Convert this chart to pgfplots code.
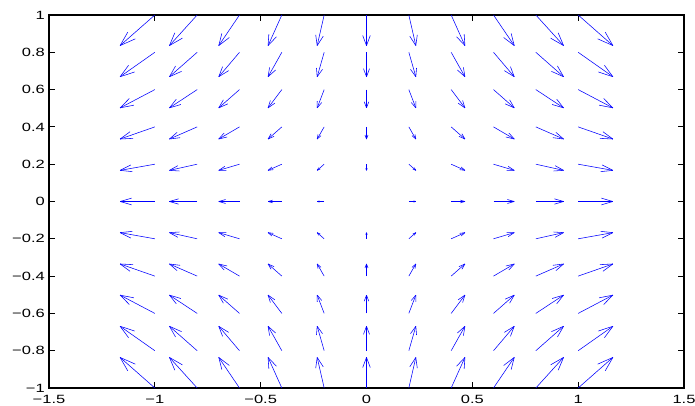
\documentclass[border=0pt]{standalone}
\usepackage{pgfplots}
\pgfplotsset{compat=1.18}
\usepackage{pgfplotstable}
\usepackage{fontspec}
\setmainfont{Liberation Sans}
\usetikzlibrary{calc}
\newcommand\tl[1]{\scalebox{1.38}[1]{#1}}

% arrow tails (x,y) and arrow vectors (u,v) as drawn
\pgfplotstableread{
x y u v
-1 1 -0.164 -0.164
-0.8 1 -0.131 -0.164
-0.6 1 -0.098 -0.164
-0.4 1 -0.065 -0.164
-0.2 1 -0.033 -0.164
0 1 0 -0.164
0.2 1 0.033 -0.164
0.4 1 0.065 -0.164
0.6 1 0.098 -0.164
0.8 1 0.131 -0.164
1 1 0.164 -0.164
-1 0.8 -0.164 -0.131
-0.8 0.8 -0.131 -0.131
-0.6 0.8 -0.098 -0.131
-0.4 0.8 -0.065 -0.131
-0.2 0.8 -0.033 -0.131
0 0.8 0 -0.131
0.2 0.8 0.033 -0.131
0.4 0.8 0.065 -0.131
0.6 0.8 0.098 -0.131
0.8 0.8 0.131 -0.131
1 0.8 0.164 -0.131
-1 0.6 -0.164 -0.098
-0.8 0.6 -0.131 -0.098
-0.6 0.6 -0.098 -0.098
-0.4 0.6 -0.065 -0.098
-0.2 0.6 -0.033 -0.098
0 0.6 0 -0.098
0.2 0.6 0.033 -0.098
0.4 0.6 0.065 -0.098
0.6 0.6 0.098 -0.098
0.8 0.6 0.131 -0.098
1 0.6 0.164 -0.098
-1 0.4 -0.164 -0.065
-0.8 0.4 -0.131 -0.065
-0.6 0.4 -0.098 -0.065
-0.4 0.4 -0.065 -0.065
-0.2 0.4 -0.033 -0.065
0 0.4 0 -0.065
0.2 0.4 0.033 -0.065
0.4 0.4 0.065 -0.065
0.6 0.4 0.098 -0.065
0.8 0.4 0.131 -0.065
1 0.4 0.164 -0.065
-1 0.2 -0.164 -0.033
-0.8 0.2 -0.131 -0.033
-0.6 0.2 -0.098 -0.033
-0.4 0.2 -0.065 -0.033
-0.2 0.2 -0.033 -0.033
0 0.2 0 -0.033
0.2 0.2 0.033 -0.033
0.4 0.2 0.065 -0.033
0.6 0.2 0.098 -0.033
0.8 0.2 0.131 -0.033
1 0.2 0.164 -0.033
-1 0 -0.164 0
-0.8 0 -0.131 0
-0.6 0 -0.098 0
-0.4 0 -0.065 0
-0.2 0 -0.033 0
0 0 0 0
0.2 0 0.033 0
0.4 0 0.065 0
0.6 0 0.098 0
0.8 0 0.131 0
1 0 0.164 0
-1 -0.2 -0.164 0.033
-0.8 -0.2 -0.131 0.033
-0.6 -0.2 -0.098 0.033
-0.4 -0.2 -0.065 0.033
-0.2 -0.2 -0.033 0.033
0 -0.2 0 0.033
0.2 -0.2 0.033 0.033
0.4 -0.2 0.065 0.033
0.6 -0.2 0.098 0.033
0.8 -0.2 0.131 0.033
1 -0.2 0.164 0.033
-1 -0.4 -0.164 0.065
-0.8 -0.4 -0.131 0.065
-0.6 -0.4 -0.098 0.065
-0.4 -0.4 -0.065 0.065
-0.2 -0.4 -0.033 0.065
0 -0.4 0 0.065
0.2 -0.4 0.033 0.065
0.4 -0.4 0.065 0.065
0.6 -0.4 0.098 0.065
0.8 -0.4 0.131 0.065
1 -0.4 0.164 0.065
-1 -0.6 -0.164 0.098
-0.8 -0.6 -0.131 0.098
-0.6 -0.6 -0.098 0.098
-0.4 -0.6 -0.065 0.098
-0.2 -0.6 -0.033 0.098
0 -0.6 0 0.098
0.2 -0.6 0.033 0.098
0.4 -0.6 0.065 0.098
0.6 -0.6 0.098 0.098
0.8 -0.6 0.131 0.098
1 -0.6 0.164 0.098
-1 -0.8 -0.164 0.131
-0.8 -0.8 -0.131 0.131
-0.6 -0.8 -0.098 0.131
-0.4 -0.8 -0.065 0.131
-0.2 -0.8 -0.033 0.131
0 -0.8 0 0.131
0.2 -0.8 0.033 0.131
0.4 -0.8 0.065 0.131
0.6 -0.8 0.098 0.131
0.8 -0.8 0.131 0.131
1 -0.8 0.164 0.131
-1 -1 -0.164 0.164
-0.8 -1 -0.131 0.164
-0.6 -1 -0.098 0.164
-0.4 -1 -0.065 0.164
-0.2 -1 -0.033 0.164
0 -1 0 0.164
0.2 -1 0.033 0.164
0.4 -1 0.065 0.164
0.6 -1 0.098 0.164
0.8 -1 0.131 0.164
1 -1 0.164 0.164
}\field

\begin{document}
\begin{tikzpicture}
\begin{axis}[
    width=635bp, height=373bp, scale only axis,
    xmin=-1.5, xmax=1.5, ymin=-1, ymax=1,
    xtick={-1.5,-1,-0.5,0,0.5,1,1.5},
    xticklabels={\tl{−1.5},\tl{−1},\tl{−0.5},\tl{0},\tl{0.5},\tl{1},\tl{1.5}},
    ytick={-1,-0.8,-0.6,-0.4,-0.2,0,0.2,0.4,0.6,0.8,1},
    yticklabels={\tl{−1},\tl{−0.8},\tl{−0.6},\tl{−0.4},\tl{−0.2},\tl{0},\tl{0.2},\tl{0.4},\tl{0.6},\tl{0.8},\tl{1}},
    tick align=inside,
    major tick length=6bp,
    tick style={black, line width=1bp},
    axis line style={black, line width=1.1bp},
    ticklabel style={font=\fontsize{12}{14}\selectfont, inner sep=1bp},
    xticklabel style={yshift=-6bp},
    yticklabel style={xshift=-3bp},
]
% shafts
\addplot[color=blue, line width=0.55bp, quiver={u=\thisrow{u}, v=\thisrow{v}}]
    table[x=x, y=y] {\field};
% arrow head barbs (MATLAB style, proportional to length)
\addplot[color=blue, line width=0.55bp,
    quiver={u={-0.33*(\thisrow{u}+0.33*\thisrow{v})}, v={-0.33*(\thisrow{v}-0.33*\thisrow{u})}}]
    table[x expr=\thisrow{x}+\thisrow{u}, y expr=\thisrow{y}+\thisrow{v}] {\field};
\addplot[color=blue, line width=0.55bp,
    quiver={u={-0.33*(\thisrow{u}-0.33*\thisrow{v})}, v={-0.33*(\thisrow{v}+0.33*\thisrow{u})}}]
    table[x expr=\thisrow{x}+\thisrow{u}, y expr=\thisrow{y}+\thisrow{v}] {\field};
\end{axis}
\pgfresetboundingbox
\path[use as bounding box] ($(current axis.south west)+(-49bp,-18bp)$) rectangle ($(current axis.north east)+(11bp,15bp)$);
\end{tikzpicture}
\end{document}
